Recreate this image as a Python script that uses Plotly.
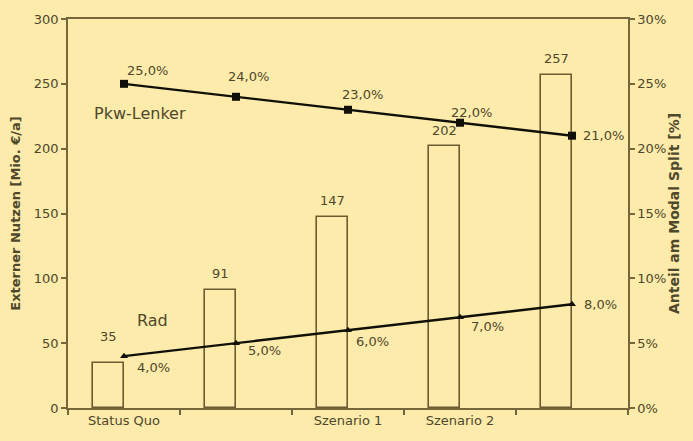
import plotly.graph_objects as go

# Categories (unique whitespace keys keep the unlabeled slots distinct)
categories = ["Status Quo", " ", "Szenario 1", "Szenario 2", "  "]
nutzen = [35, 91, 147, 202, 257]            # Externer Nutzen [Mio. €/a]
pkw_share = [25.0, 24.0, 23.0, 22.0, 21.0]  # Pkw-Lenker [%]
rad_share = [4.0, 5.0, 6.0, 7.0, 8.0]       # Rad [%]

# label offsets in pixels (xshift, yshift)
pkw_label_shift = [(23, 13), (12, 20), (14, 15), (11, 10), (31, 0)]
rad_label_shift = [(29, -11), (28, -7), (24, -11), (27, -9), (28, 0)]
bar_label_shift = [26, 17, 17, 16, 16]

BG = "#FCEBAA"
AXIS = "#75673A"
BAR_EDGE = "#6A5C30"
TEXT = "#4F472A"
FONT = "DejaVu Sans, Liberation Sans, Arial, sans-serif"


def pct(v):
    return f"{v:.1f}".replace(".", ",") + "%"


fig = go.Figure()

bar_w = 0.28
fig.add_trace(go.Bar(
    x=categories, y=nutzen, width=bar_w, offset=-bar_w,
    marker=dict(color=BG, line=dict(color=BAR_EDGE, width=1.6)),
    showlegend=False, yaxis="y",
))
fig.add_trace(go.Scatter(
    x=categories, y=pkw_share, mode="lines+markers", yaxis="y2",
    line=dict(color="#111008", width=2.4),
    marker=dict(symbol="square", size=8, color="#111008"),
    showlegend=False,
))
fig.add_trace(go.Scatter(
    x=categories, y=rad_share, mode="lines+markers", yaxis="y2",
    line=dict(color="#111008", width=2.4),
    marker=dict(symbol="triangle-up", size=7, color="#111008"),
    showlegend=False,
))

label_font = dict(family=FONT, size=13, color=TEXT)
annotations = []
for i, v in enumerate(nutzen):
    annotations.append(dict(
        x=categories[i], y=v, xref="x", yref="y", text=str(v), showarrow=False,
        xshift=-bar_w * 112 / 2, yshift=bar_label_shift[i], font=label_font))
for i, v in enumerate(pkw_share):
    dx, dy = pkw_label_shift[i]
    annotations.append(dict(
        x=categories[i], y=v, xref="x", yref="y2", text=pct(v), showarrow=False,
        xshift=dx, yshift=dy, font=label_font))
for i, v in enumerate(rad_share):
    dx, dy = rad_label_shift[i]
    annotations.append(dict(
        x=categories[i], y=v, xref="x", yref="y2", text=pct(v), showarrow=False,
        xshift=dx, yshift=dy, font=label_font))

annotations.append(dict(x=0.129, y=0.757, xref="paper", yref="paper",
                        xanchor="center", yanchor="middle",
                        text="Pkw-Lenker", showarrow=False,
                        font=dict(family=FONT, size=16, color=TEXT)))
annotations.append(dict(x=0.150, y=0.225, xref="paper", yref="paper",
                        xanchor="center", yanchor="middle",
                        text="Rad", showarrow=False,
                        font=dict(family=FONT, size=16, color=TEXT)))

fig.update_layout(
    width=693, height=441,
    margin=dict(l=68, r=65, t=17, b=33),
    paper_bgcolor=BG, plot_bgcolor=BG,
    font=dict(family=FONT, size=13, color=TEXT),
    bargap=0,
    annotations=annotations,
    xaxis=dict(
        type="category", tickson="boundaries", ticks="outside", ticklen=5,
        tickcolor=AXIS, tickwidth=1.5, showline=True, linecolor=AXIS,
        linewidth=1.5, mirror=True, showgrid=False, zeroline=False,
        tickfont=dict(family=FONT, size=13, color=TEXT),
        range=[-0.5, 4.5],
    ),
    yaxis=dict(
        range=[0, 300], dtick=50, ticks="outside", ticklen=5, tickcolor=AXIS,
        tickwidth=1.5, showline=True, linecolor=AXIS, linewidth=1.5,
        showgrid=False, zeroline=False,
        tickfont=dict(family=FONT, size=13, color=TEXT),
        title=dict(text="<b>Externer Nutzen [Mio. €/a]</b>", standoff=10,
                   font=dict(family=FONT, size=13, color=TEXT)),
    ),
    yaxis2=dict(
        range=[0, 30], dtick=5, ticksuffix="%", overlaying="y", side="right",
        ticks="outside", ticklen=5, tickcolor=AXIS, tickwidth=1.5,
        showline=True, linecolor=AXIS, linewidth=1.5, showgrid=False,
        zeroline=False, tickfont=dict(family=FONT, size=13, color=TEXT),
        title=dict(text="<b>Anteil am Modal Split [%]</b>", standoff=2,
                   font=dict(family=FONT, size=14, color=TEXT)),
    ),
)

fig.write_html("out.html")
